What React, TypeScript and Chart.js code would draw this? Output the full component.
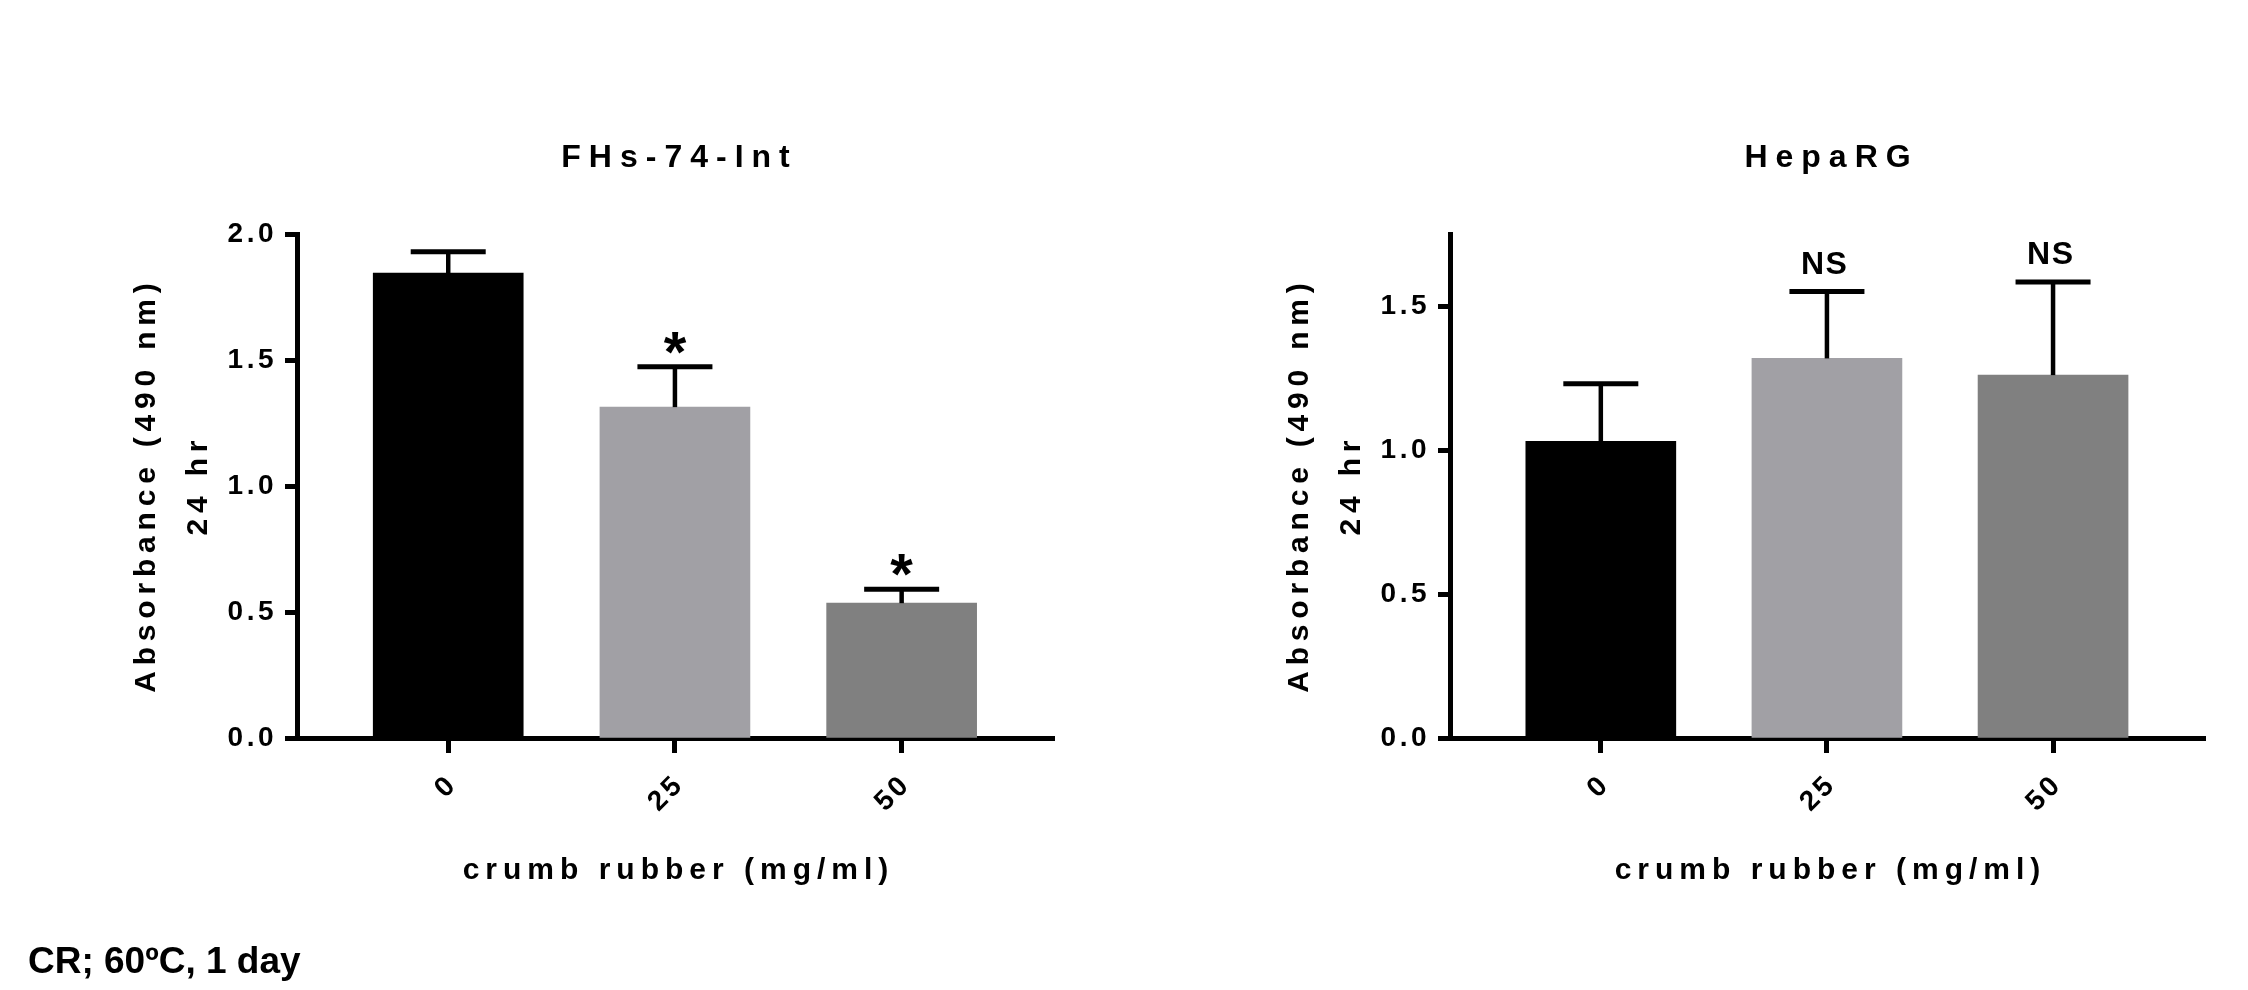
import React, { useEffect, useRef } from "react";
import { Chart, registerables } from "chart.js";

Chart.register(...registerables);

// ---------- data ----------
const categories = ["0", "25", "50"];
const fhsMeans = [1.845, 1.313, 0.535];
const fhsErrors = [0.085, 0.16, 0.055];
const fhsMarks = ["", "*", "*"];
const hepMeans = [1.03, 1.318, 1.26];
const hepErrors = [0.2, 0.232, 0.323];
const hepMarks = ["", "NS", "NS"];
const fhsTicks = [0, 0.5, 1.0, 1.5, 2.0];
const hepTicks = [0, 0.5, 1.0, 1.5];
const fhsMax = 2.0;
const hepMax = 1.75;
const barColors = ["#000000", "#a1a0a5", "#808080"];
const titles = ["FHs-74-Int", "HepaRG"];
const yTitleLines = ["Absorbance (490 nm)", "24 hr"];
const xTitle = "crumb rubber (mg/ml)";
const footer = "CR; 60ºC, 1 day";

// ---------- layout ----------
const W = 1124;
const H = 990;
const X_MIN = -0.667;
const X_MAX = 2.672;
const Y_W = 110;
const X_H = 110;
const FONT = "'Liberation Sans', Arial, Helvetica, sans-serif";

type Area = { left: number; right: number; top: number; bottom: number };

function spacedText(
  ctx: CanvasRenderingContext2D,
  text: string,
  x: number,
  y: number,
  font: string,
  spacing: number,
  rotate = 0
) {
  ctx.save();
  ctx.font = font;
  (ctx as any).letterSpacing = spacing + "px";
  ctx.fillStyle = "#000";
  ctx.textAlign = "left";
  ctx.textBaseline = "alphabetic";
  const w = ctx.measureText(text).width - spacing;
  ctx.translate(x, y);
  ctx.rotate(rotate);
  ctx.fillText(text, -w / 2, 0);
  ctx.restore();
}

function Panel(props: {
  means: number[];
  errors: number[];
  marks: string[];
  yMax: number;
  yTicks: number[];
  title: string;
  area: Area;
  left: number;
}) {
  const ref = useRef<HTMLCanvasElement | null>(null);
  const { means, errors, marks, yMax, yTicks, title, area, left } = props;

  useEffect(() => {
    if (!ref.current) return;
    const deco = {
      id: "deco",
      beforeDraw(chart: any) {
        chart.ctx.letterSpacing = "3.5px";
      },
      afterDatasetsDraw(chart: any) {
        const ctx: CanvasRenderingContext2D = chart.ctx;
        const xs = chart.scales.x;
        const ys = chart.scales.y;
        ctx.save();
        ctx.strokeStyle = "#000";
        means.forEach((m, i) => {
          const x = xs.getPixelForValue(i);
          const yb = ys.getPixelForValue(m);
          const yt = ys.getPixelForValue(m + errors[i]);
          ctx.lineWidth = 4.5;
          ctx.beginPath();
          ctx.moveTo(x, yb);
          ctx.lineTo(x, yt);
          ctx.stroke();
          ctx.lineWidth = 5;
          ctx.beginPath();
          ctx.moveTo(x - 37.5, yt);
          ctx.lineTo(x + 37.5, yt);
          ctx.stroke();
          const mk = marks[i];
          if (mk === "*") {
            ctx.font = "bold 58px " + FONT;
            (ctx as any).letterSpacing = "0px";
            ctx.textAlign = "center";
            ctx.textBaseline = "alphabetic";
            const mt = ctx.measureText(mk);
            const bottom = yt - 13;
            ctx.fillStyle = "#000";
            ctx.fillText(mk, x, bottom - mt.actualBoundingBoxDescent);
          } else if (mk) {
            spacedText(ctx, mk, x - 3, yt - 18, "bold 32px " + FONT, 1.5);
          }
        });
        ctx.restore();
      },
      afterDraw(chart: any) {
        const ctx: CanvasRenderingContext2D = chart.ctx;
        const ca = chart.chartArea;
        const cx = (ca.left + ca.right) / 2;
        const cy = (ca.top + ca.bottom) / 2 + 2;
        spacedText(ctx, title, cx, 167, "bold 32px " + FONT, 8);
        spacedText(ctx, xTitle, cx, 879, "bold 30px " + FONT, 6);
        spacedText(ctx, yTitleLines[0], ca.left - 142, cy, "bold 30px " + FONT, 5.8, -Math.PI / 2);
        spacedText(ctx, yTitleLines[1], ca.left - 90, cy, "bold 30px " + FONT, 5.8, -Math.PI / 2);
        (ctx as any).letterSpacing = "0px";
      },
    };

    const tickFont = { family: FONT, size: 28, weight: "bold" as const };

    const chart = new Chart(ref.current, {
      type: "bar",
      data: {
        datasets: [
          {
            data: means.map((m, i) => ({ x: i, y: m })),
            backgroundColor: barColors,
            borderWidth: 0,
            barThickness: 150,
          },
        ],
      },
      options: {
        animation: false,
        responsive: false,
        devicePixelRatio: 1,
        layout: {
          padding: {
            left: area.left - Y_W,
            right: W - area.right,
            top: area.top,
            bottom: H - area.bottom - X_H,
          },
        },
        plugins: {
          legend: { display: false },
          tooltip: { enabled: false },
          title: { display: false },
        },
        scales: {
          x: {
            type: "linear",
            min: X_MIN,
            max: X_MAX,
            offset: false,
            afterFit: (s: any) => {
              s.height = X_H;
            },
            afterBuildTicks: (s: any) => {
              s.ticks = categories.map((_, i) => ({ value: i }));
            },
            ticks: {
              callback: (v: any) => categories[Math.round(Number(v))] ?? "",
              minRotation: 45,
              maxRotation: 45,
              autoSkip: false,
              color: "#000",
              font: tickFont,
              padding: 15,
              labelOffset: 5,
            },
            grid: {
              offset: false,
              drawOnChartArea: false,
              drawTicks: true,
              tickLength: 15,
              tickWidth: 5,
              tickColor: "#000",
            },
            border: { display: true, width: 5, color: "#000" },
          },
          y: {
            type: "linear",
            min: 0,
            max: yMax,
            afterFit: (s: any) => {
              s.width = Y_W;
            },
            afterBuildTicks: (s: any) => {
              s.ticks = yTicks.map((v) => ({ value: v }));
            },
            ticks: {
              callback: (v: any) => Number(v).toFixed(1),
              color: "#000",
              font: tickFont,
              padding: 8,
            },
            grid: {
              drawOnChartArea: false,
              drawTicks: true,
              tickLength: 12,
              tickWidth: 5,
              tickColor: "#000",
            },
            border: { display: true, width: 5, color: "#000" },
          },
        },
      },
      plugins: [deco],
    } as any);
    return () => chart.destroy();
  }, []);

  return (
    <canvas
      ref={ref}
      width={W}
      height={H}
      style={{ position: "absolute", left, top: 0, width: W, height: H }}
    />
  );
}

export default function App() {
  return (
    <div
      style={{
        position: "absolute",
        left: 0,
        top: 0,
        width: 2248,
        height: 990,
        background: "#fff",
        overflow: "hidden",
      }}
    >
      <Panel
        means={fhsMeans}
        errors={fhsErrors}
        marks={fhsMarks}
        yMax={fhsMax}
        yTicks={fhsTicks}
        title={titles[0]}
        area={{ left: 297, right: 1054, top: 234, bottom: 738 }}
        left={0}
      />
      <Panel
        means={hepMeans}
        errors={hepErrors}
        marks={hepMarks}
        yMax={hepMax}
        yTicks={hepTicks}
        title={titles[1]}
        area={{ left: 326, right: 1081, top: 234, bottom: 738 }}
        left={1124}
      />
      <div
        style={{
          position: "absolute",
          left: 28,
          top: 942,
          font: "bold 37px " + FONT,
          lineHeight: "37px",
          color: "#000",
          whiteSpace: "nowrap",
        }}
      >
        {footer}
      </div>
    </div>
  );
}
